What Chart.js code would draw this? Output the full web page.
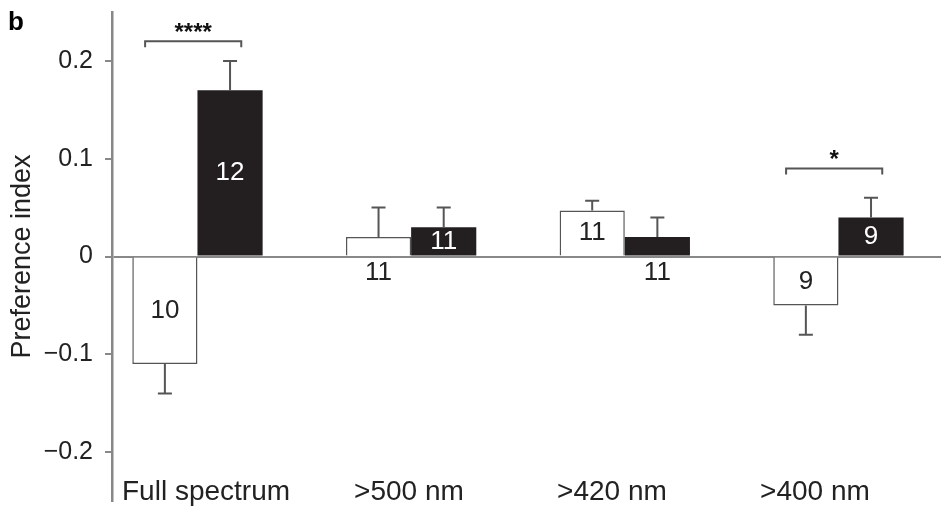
<!DOCTYPE html>
<html>
<head>
<meta charset="utf-8">
<script src="https://cdn.jsdelivr.net/npm/chart.js@4.4.0/dist/chart.umd.min.js"></script>
<style>
  html, body { margin: 0; padding: 0; background: #fff; }
</style>
</head>
<body>
<canvas id="canvas" width="941" height="513"></canvas>
<script>
const categories = ["Full spectrum", ">500 nm", ">420 nm", ">400 nm"];
const whiteValues = [-0.11, 0.02, 0.047, -0.05];
const whiteErrors = [0.03, 0.03, 0.01, 0.03];
const whiteN = [10, 11, 11, 9];
const blackValues = [0.17, 0.03, 0.02, 0.04];
const blackErrors = [0.03, 0.02, 0.02, 0.02];
const blackN = [12, 11, 11, 9];
const yTicks = [-0.2, -0.1, 0, 0.1, 0.2];
const sigGroups = [0, 3];
const sigHeights = [0.22, 0.09];
const sigLabels = ["****", "*"];

const family = "'Liberation Sans', Arial, Helvetica, sans-serif";
Chart.defaults.font.family = family;

const fmt = v => v === 0 ? "0" : (v < 0 ? "\u2212" : "") + Math.abs(v).toFixed(1);

// error bars, n labels, category names, significance brackets and panel letter
const extras = {
  id: "extras",
  afterDatasetsDraw(chart) {
    const c = chart.ctx;
    const xs = chart.scales.x, ys = chart.scales.y;
    const sets = [[whiteValues, whiteErrors, whiteN], [blackValues, blackErrors, blackN]];
    sets.forEach(([vals, errs, ns], d) => {
      chart.getDatasetMeta(d).data.forEach((bar, i) => {
        const v = vals[i];
        const s = v < 0 ? -1 : 1;
        const yEnd = ys.getPixelForValue(v + s * errs[i]);
        c.save();
        c.strokeStyle = "#555";
        c.lineWidth = 2;
        c.beginPath();
        c.moveTo(bar.x, bar.y);
        c.lineTo(bar.x, yEnd);
        c.moveTo(bar.x - 7, yEnd);
        c.lineTo(bar.x + 7, yEnd);
        c.stroke();

        const small = Math.abs(v) < 0.025;
        const ty = small ? bar.base + 17 : (bar.y + bar.base) / 2;
        c.fillStyle = (d === 1 && !small) ? "#fff" : "#222";
        c.font = "26px " + family;
        c.textAlign = "center";
        c.textBaseline = "middle";
        c.fillText(String(ns[i]), bar.x, ty);
        c.restore();
      });
    });

    // category names sit inside the plot, above the end of the y axis,
    // spaced a little tighter than the bar groups
    c.save();
    c.fillStyle = "#222";
    c.font = "28px " + family;
    c.textAlign = "center";
    c.textBaseline = "alphabetic";
    categories.forEach((name, i) => {
      c.fillText(name, xs.getPixelForValue(0.04 + i * 0.95), chart.chartArea.bottom - 1);
    });
    c.restore();

    sigGroups.forEach((g, k) => {
      const x0 = xs.getPixelForValue(g - 0.245);
      const x1 = xs.getPixelForValue(g + 0.205);
      const yb = ys.getPixelForValue(sigHeights[k]);
      c.save();
      c.strokeStyle = "#555";
      c.lineWidth = 2;
      c.beginPath();
      c.moveTo(x0, yb + 6);
      c.lineTo(x0, yb);
      c.lineTo(x1, yb);
      c.lineTo(x1, yb + 6);
      c.stroke();
      c.fillStyle = "#111";
      c.font = "bold 24px " + family;
      c.textAlign = "center";
      c.textBaseline = "alphabetic";
      c.fillText(sigLabels[k], (x0 + x1) / 2, yb - 1);
      c.restore();
    });

    c.save();
    c.fillStyle = "#000";
    c.font = "bold 26px " + family;
    c.textAlign = "left";
    c.textBaseline = "alphabetic";
    c.fillText("b", 8, 30);
    c.restore();
  }
};

new Chart(document.getElementById("canvas").getContext("2d"), {
  type: "bar",
  data: {
    datasets: [
      {
        label: "white",
        data: whiteValues.map((v, i) => ({ x: i, y: v })),
        backgroundColor: "#fff",
        borderColor: "#555",
        borderWidth: 1.5
      },
      {
        label: "black",
        data: blackValues.map((v, i) => ({ x: i, y: v })),
        backgroundColor: "#231f20",
        borderWidth: 0
      }
    ]
  },
  options: {
    responsive: false,
    devicePixelRatio: 1,
    animation: false,
    categoryPercentage: 0.61,
    barPercentage: 1,
    layout: { padding: { top: 12, bottom: 12, left: 0, right: 0 } },
    plugins: { legend: { display: false }, tooltip: { enabled: false } },
    scales: {
      x: {
        type: "linear",
        min: -0.4,
        max: 3.48,
        offset: false,
        afterBuildTicks: s => { s.ticks = categories.map((_, i) => ({ value: i })); },
        afterFit: s => { s.height = 0; },
        ticks: { display: false },
        grid: { display: false, drawTicks: false },
        border: { display: false }
      },
      y: {
        min: -0.25,
        max: 0.25,
        afterBuildTicks: s => { s.ticks = yTicks.map(v => ({ value: v })); },
        afterFit: s => {
          s.width = 112;
          s.paddingTop = 0;
          s.paddingBottom = 0;
        },
        ticks: {
          font: { size: 25 },
          color: "#222",
          padding: 12,
          callback: v => fmt(v)
        },
        grid: {
          color: ctx => (ctx.tick && ctx.tick.value === 0) ? "#888" : "rgba(0,0,0,0)",
          lineWidth: 2,
          tickColor: "#888",
          tickLength: 7
        },
        border: { display: true, color: "#888", width: 2.5 },
        title: {
          display: true,
          text: "Preference index",
          font: { size: 27 },
          color: "#222",
          padding: { top: 6, bottom: 0 }
        }
      }
    }
  },
  plugins: [extras]
});
</script>
</body>
</html>
